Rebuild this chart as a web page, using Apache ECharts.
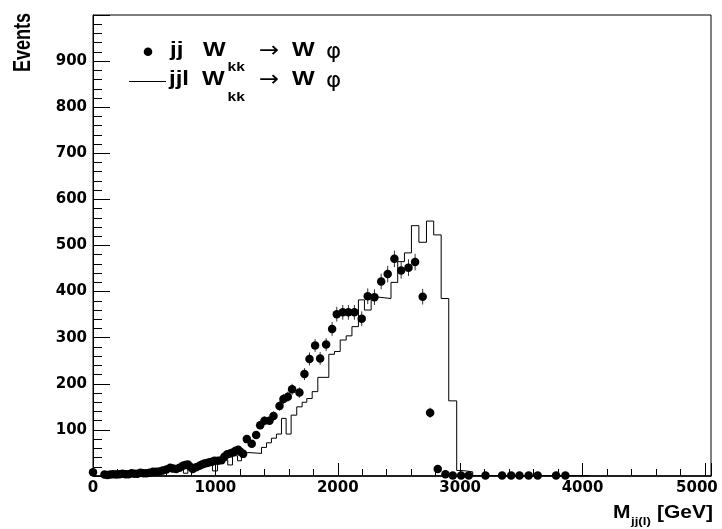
<!DOCTYPE html>
<html><head><meta charset="utf-8">
<script src="https://cdn.jsdelivr.net/npm/echarts@6/dist/echarts.min.js"></script>
<style>html,body{margin:0;padding:0;background:#fff}#c{width:722px;height:529px}</style>
</head><body><div id="c"></div>
<script>
// ---- data ----
const seriesPointsName = 'jj  W_kk -> W phi';
const seriesHistName = 'jjl W_kk -> W phi';

const pointX = [0, 94, 118, 142, 167, 192, 216, 241, 266, 290, 315, 339, 363, 388, 412, 437, 462, 490, 516, 543,
  570, 600, 631, 655, 680, 707, 734, 755, 775, 795, 815, 843, 870, 891, 911, 932, 952, 973, 993, 1022,
  1050, 1073, 1097, 1120, 1142, 1165, 1187, 1207, 1227, 1257, 1297, 1333, 1366, 1401, 1442, 1475, 1524, 1556, 1592, 1627,
  1687, 1728, 1769, 1815, 1856, 1905, 1954, 1992, 2041, 2087, 2136, 2196, 2245, 2300, 2355, 2408, 2463, 2518, 2578, 2632,
  2694, 2755, 2817, 2880, 2940, 3008, 3070, 3207, 3343, 3417, 3485, 3560, 3634, 3784, 3860];
const pointY = [8, 3, 2, 3, 4, 3, 4, 5, 4, 4, 6, 5, 5, 7, 6, 6, 7, 9, 9, 10,
  12, 14, 18, 16, 15, 18, 22, 24, 25, 20, 15, 19, 22, 25, 27, 28, 30, 31, 33, 33,
  34, 42, 47, 49, 51, 55, 57, 52, 48, 80, 70, 89, 110, 120, 120, 130, 152, 167, 172, 188,
  181, 221, 254, 283, 255, 285, 319, 351, 355, 355, 355, 341, 390, 388, 422, 438, 471, 446, 452, 464,
  389, 137, 15, 4, 1, 1, 1, 1, 1, 1, 1, 1, 1, 1, 1];
const pointErr = [3, 2, 2, 2, 2, 2, 2, 2, 2, 2, 2, 2, 2, 3, 2, 2, 3, 3, 3, 3,
  3, 4, 4, 4, 3, 4, 4, 4, 4, 4, 3, 4, 4, 4, 4, 4, 5, 5, 5, 5,
  5, 6, 6, 6, 6, 6, 6, 6, 6, 8, 7, 8, 9, 9, 9, 10, 10, 11, 11, 12,
  11, 13, 14, 14, 14, 14, 15, 16, 16, 16, 16, 16, 17, 17, 17, 18, 18, 18, 18, 18,
  17, 11, 4, 2, 1, 1, 1, 1, 1, 1, 1, 1, 1, 1, 1];

// histogram: bin edges (n+1) and contents (n)
const histEdges = [86, 122, 159, 196, 233, 270, 306, 343, 380, 417, 453, 494, 535, 576, 617, 658, 699, 739, 775, 813,
  854, 895, 935, 976, 1017, 1058, 1101, 1140, 1181, 1213, 1262, 1377, 1418, 1458, 1499, 1540, 1578, 1619, 1665, 1709,
  1747, 1791, 1837, 1927, 1973, 2020, 2069, 2116, 2169, 2218, 2273, 2333, 2435, 2490, 2545, 2602, 2663, 2725, 2784, 2845,
  2907, 2972, 3003, 3049, 3103, 4056];
const histValues = [2, 2, 3, 3, 4, 4, 5, 5, 6, 6, 8, 8, 10, 11, 14, 13, 16, 6, 17, 13,
  20, 24, 27, 11, 32, 35, 24, 44, 33, 51, 49, 62, 72, 82, 91, 125, 91, 132, 150, 160,
  168, 183, 214, 264, 270, 295, 304, 324, 382, 360, 388, 385, 420, 465, 484, 543, 507, 553, 523, 385,
  163, 12, 11, 9, 1];

const xTickLabels = ['0', '1000', '2000', '3000', '4000', '5000'];
const yTickLabels = ['', '100', '200', '300', '400', '500', '600', '700', '800', '900', ''];

// ---- build series data ----
const histLine = [];
for (let i = 0; i < histValues.length; i++) {
  histLine.push([histEdges[i], histValues[i]]);
  histLine.push([histEdges[i + 1], histValues[i]]);
}
const pts = pointX.map((x, i) => [x, pointY[i]]);
const errs = pointX.map((x, i) => [x, pointY[i] - pointErr[i], pointY[i] + pointErr[i]]);

const chart = echarts.init(document.getElementById('c'), null, {renderer: 'canvas'});
const lblFont = {fontFamily: 'DejaVu Sans', fontWeight: 'bold', fontSize: 15, color: '#000'};

function txt(text, x, y, size, opts) {
  opts = opts || {};
  return {
    type: 'text', x: x, y: y, scaleX: opts.sx || 1.2, scaleY: opts.sy || 1, rotation: opts.rot || 0,
    silent: true, z: 100,
    style: {
      text: text, x: 0, y: 0,
      fontFamily: opts.family || 'Liberation Sans', fontWeight: opts.weight || 'bold', fontSize: size,
      fill: '#000', textAlign: opts.align || 'left', textVerticalAlign: 'middle',
      align: opts.align || 'left', verticalAlign: 'middle'
    }
  };
}

chart.setOption({
  animation: false,
  backgroundColor: '#fff',
  grid: {left: 93, right: 11, top: 15, bottom: 53, show: true, borderColor: '#000', borderWidth: 1, backgroundColor: 'transparent'},
  xAxis: {
    type: 'value', min: 0, max: 5050, interval: 1000,
    axisLine: {show: true, onZero: false, lineStyle: {color: '#000', width: 1.5}},
    axisTick: {show: true, inside: true, length: 13, lineStyle: {color: '#000', width: 1}},
    minorTick: {show: true, splitNumber: 5, length: 7, lineStyle: {color: '#000', width: 1}},
    splitLine: {show: false},
    axisLabel: Object.assign({
      margin: 5, showMaxLabel: false,
      formatter: function (v) {
        const s = xTickLabels[Math.round(v / 1000)];
        if (s === undefined) return '';
        return v === 5000 ? '{last|' + s + '}' : s;
      },
      rich: {last: Object.assign({padding: [0, 16, 0, 0]}, lblFont)}
    }, lblFont)
  },
  yAxis: {
    type: 'value', min: 0, max: 1000, interval: 100,
    axisLine: {show: true, onZero: false, lineStyle: {color: '#000', width: 1}},
    axisTick: {show: true, inside: true, length: 17, lineStyle: {color: '#000', width: 1}},
    minorTick: {show: true, splitNumber: 5, length: 9, lineStyle: {color: '#000', width: 1}},
    splitLine: {show: false},
    axisLabel: Object.assign({
      margin: 6,
      formatter: function (v) { const s = yTickLabels[Math.round(v / 100)]; return s === undefined ? '' : s; }
    }, lblFont)
  },
  series: [
    {
      name: seriesHistName, type: 'line', data: histLine, symbol: 'none', z: 1,
      lineStyle: {color: '#000', width: 1}, clip: true, silent: true
    },
    {
      name: 'errors', type: 'custom', data: errs, encode: {x: 0, y: [1, 2]}, z: 2, silent: true, clip: true,
      renderItem: function (params, api) {
        const p1 = api.coord([api.value(0), api.value(1)]);
        const p2 = api.coord([api.value(0), api.value(2)]);
        return {type: 'line', shape: {x1: p1[0], y1: p1[1], x2: p2[0], y2: p2[1]}, style: {stroke: '#333', lineWidth: 1}};
      }
    },
    {
      name: seriesPointsName, type: 'scatter', data: pts, symbol: 'circle', symbolSize: 8.5, z: 3,
      itemStyle: {color: '#000', opacity: 1}, silent: true
    }
  ],
  graphic: [
    // legend
    {type: 'circle', shape: {cx: 148, cy: 51.7, r: 4.3}, style: {fill: '#000'}, silent: true, z: 100},
    {type: 'line', shape: {x1: 129, y1: 81.5, x2: 166, y2: 81.5}, style: {stroke: '#000', lineWidth: 1}, silent: true, z: 100},
    txt('jj', 170, 50, 20),
    txt('W', 203, 50, 20),
    txt('kk', 227.5, 67.5, 13),
    txt('\u2192', 259, 51, 22, {family: 'DejaVu Sans', weight: 'normal', sx: 1.1}),
    txt('W', 292, 50, 20),
    txt('\u03c6', 326, 53, 21, {family: 'DejaVu Sans', weight: 'normal', sx: 1.1}),
    txt('jjl', 169, 79, 20),
    txt('W', 202, 79, 20),
    txt('kk', 227.5, 97, 13),
    txt('\u2192', 259, 80, 22, {family: 'DejaVu Sans', weight: 'normal', sx: 1.1}),
    txt('W', 292, 79, 20),
    txt('\u03c6', 326, 82, 21, {family: 'DejaVu Sans', weight: 'normal', sx: 1.1}),
    // axis titles
    txt('M', 613, 513, 17.5),
    txt('jj(l)', 631, 522, 11),
    txt('[GeV]', 657, 513.5, 17.5),
    txt('Events', 24, 42.5, 18, {rot: Math.PI / 2, sx: 1, sy: 1.3, align: 'center'})
  ]
});
</script></body></html>
